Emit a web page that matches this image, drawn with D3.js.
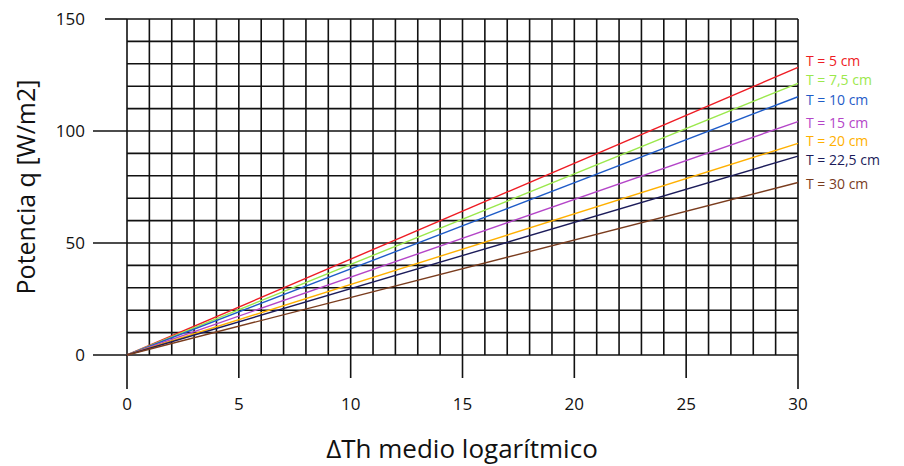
<!DOCTYPE html>
<html>
<head>
<meta charset="utf-8">
<script src="https://cdn.jsdelivr.net/npm/d3@7"></script>
<style>
  body { margin: 0; background: #fff; }
  text { font-family: "Open Sans", "Noto Sans", sans-serif; }
</style>
</head>
<body>
<div id="chart"></div>
<script>
// Thickness labels and colors
const series = ["T = 5 cm", "T = 7,5 cm", "T = 10 cm", "T = 15 cm", "T = 20 cm", "T = 22,5 cm", "T = 30 cm"];
const colors = ["#ee1c24", "#9be84c", "#1f5cc8", "#b445c8", "#ffb000", "#1c1c5a", "#7a3c1e"];
// q [W/m2] at ΔTh = 0 and ΔTh = 30 (straight lines)
const xPoints = [0, 30];
const qAt30 = [128.4, 121.3, 115.3, 104.2, 94.5, 88.8, 77.0];
// label vertical positions (in data units)
const labelY = [131.3, 122.8, 113.8, 103.6, 95.5, 87.1, 76.3];
const xTicks = [0, 5, 10, 15, 20, 25, 30];
const yTicks = [0, 50, 100, 150];

const width = 904;
const height = 466;

const svg = d3.select("#chart")
    .append("svg")
    .attr("width", width)
    .attr("height", height);

const x = d3.scaleLinear().domain([0, 30]).range([127, 798]);
const y = d3.scaleLinear().domain([0, 150]).range([355, 19]);

// Grid
const grid = svg.append("g").attr("stroke", "#111").attr("stroke-width", 1.6);

grid.selectAll(".vline")
    .data(d3.range(0, 31, 1))
    .join("line")
    .attr("x1", d => x(d)).attr("x2", d => x(d))
    .attr("y1", y(150)).attr("y2", y(0));

grid.selectAll(".hline")
    .data(d3.range(0, 151, 10))
    .join("line")
    .attr("x1", x(0)).attr("x2", x(30))
    .attr("y1", d => y(d)).attr("y2", d => y(d));

// Y axis ticks (extend left of grid)
svg.append("g")
    .selectAll("line")
    .data(yTicks)
    .join("line")
    .attr("stroke", "#111")
    .attr("stroke-width", 1.6)
    .attr("x1", d => d === 150 ? 105 : 93)
    .attr("x2", x(0))
    .attr("y1", d => y(d)).attr("y2", d => y(d));

svg.append("g")
    .selectAll("text")
    .data(yTicks)
    .join("text")
    .attr("x", 85)
    .attr("y", d => y(d))
    .attr("dy", "0.35em")
    .attr("text-anchor", "end")
    .style("font-size", "17px")
    .attr("fill", "#111")
    .text(d => d);

// X axis ticks (extend below grid)
svg.append("g")
    .selectAll("line")
    .data(xTicks)
    .join("line")
    .attr("stroke", "#111")
    .attr("stroke-width", 1.6)
    .attr("x1", d => x(d)).attr("x2", d => x(d))
    .attr("y1", y(0))
    .attr("y2", d => (d === 0 || d === 30) ? 389 : 378);

svg.append("g")
    .selectAll("text")
    .data(xTicks)
    .join("text")
    .attr("x", d => x(d))
    .attr("y", 409.5)
    .attr("text-anchor", "middle")
    .style("font-size", "17px")
    .attr("fill", "#111")
    .text(d => d);

// Series lines
const line = d3.line().x(d => x(d[0])).y(d => y(d[1]));

svg.append("g")
    .selectAll("path")
    .data(qAt30)
    .join("path")
    .attr("fill", "none")
    .attr("stroke", (d, i) => colors[i])
    .attr("stroke-width", 1.4)
    .attr("d", d => line(xPoints.map(v => [v, d * v / 30])));

// Labels on the right
svg.append("g")
    .selectAll("text")
    .data(series)
    .join("text")
    .attr("x", 806)
    .attr("y", (d, i) => y(labelY[i]))
    .attr("dy", "0.35em")
    .style("font-size", "14px")
    .attr("fill", (d, i) => colors[i])
    .text(d => d);

// Axis titles
svg.append("text")
    .attr("x", 462)
    .attr("y", 458)
    .attr("text-anchor", "middle")
    .style("font-size", "26px")
    .attr("fill", "#111")
    .text("ΔTh medio logarítmico");

svg.append("text")
    .attr("transform", `translate(35,187) rotate(-90)`)
    .attr("text-anchor", "middle")
    .style("font-size", "25px")
    .attr("fill", "#111")
    .text("Potencia q [W/m2]");
</script>
</body>
</html>
